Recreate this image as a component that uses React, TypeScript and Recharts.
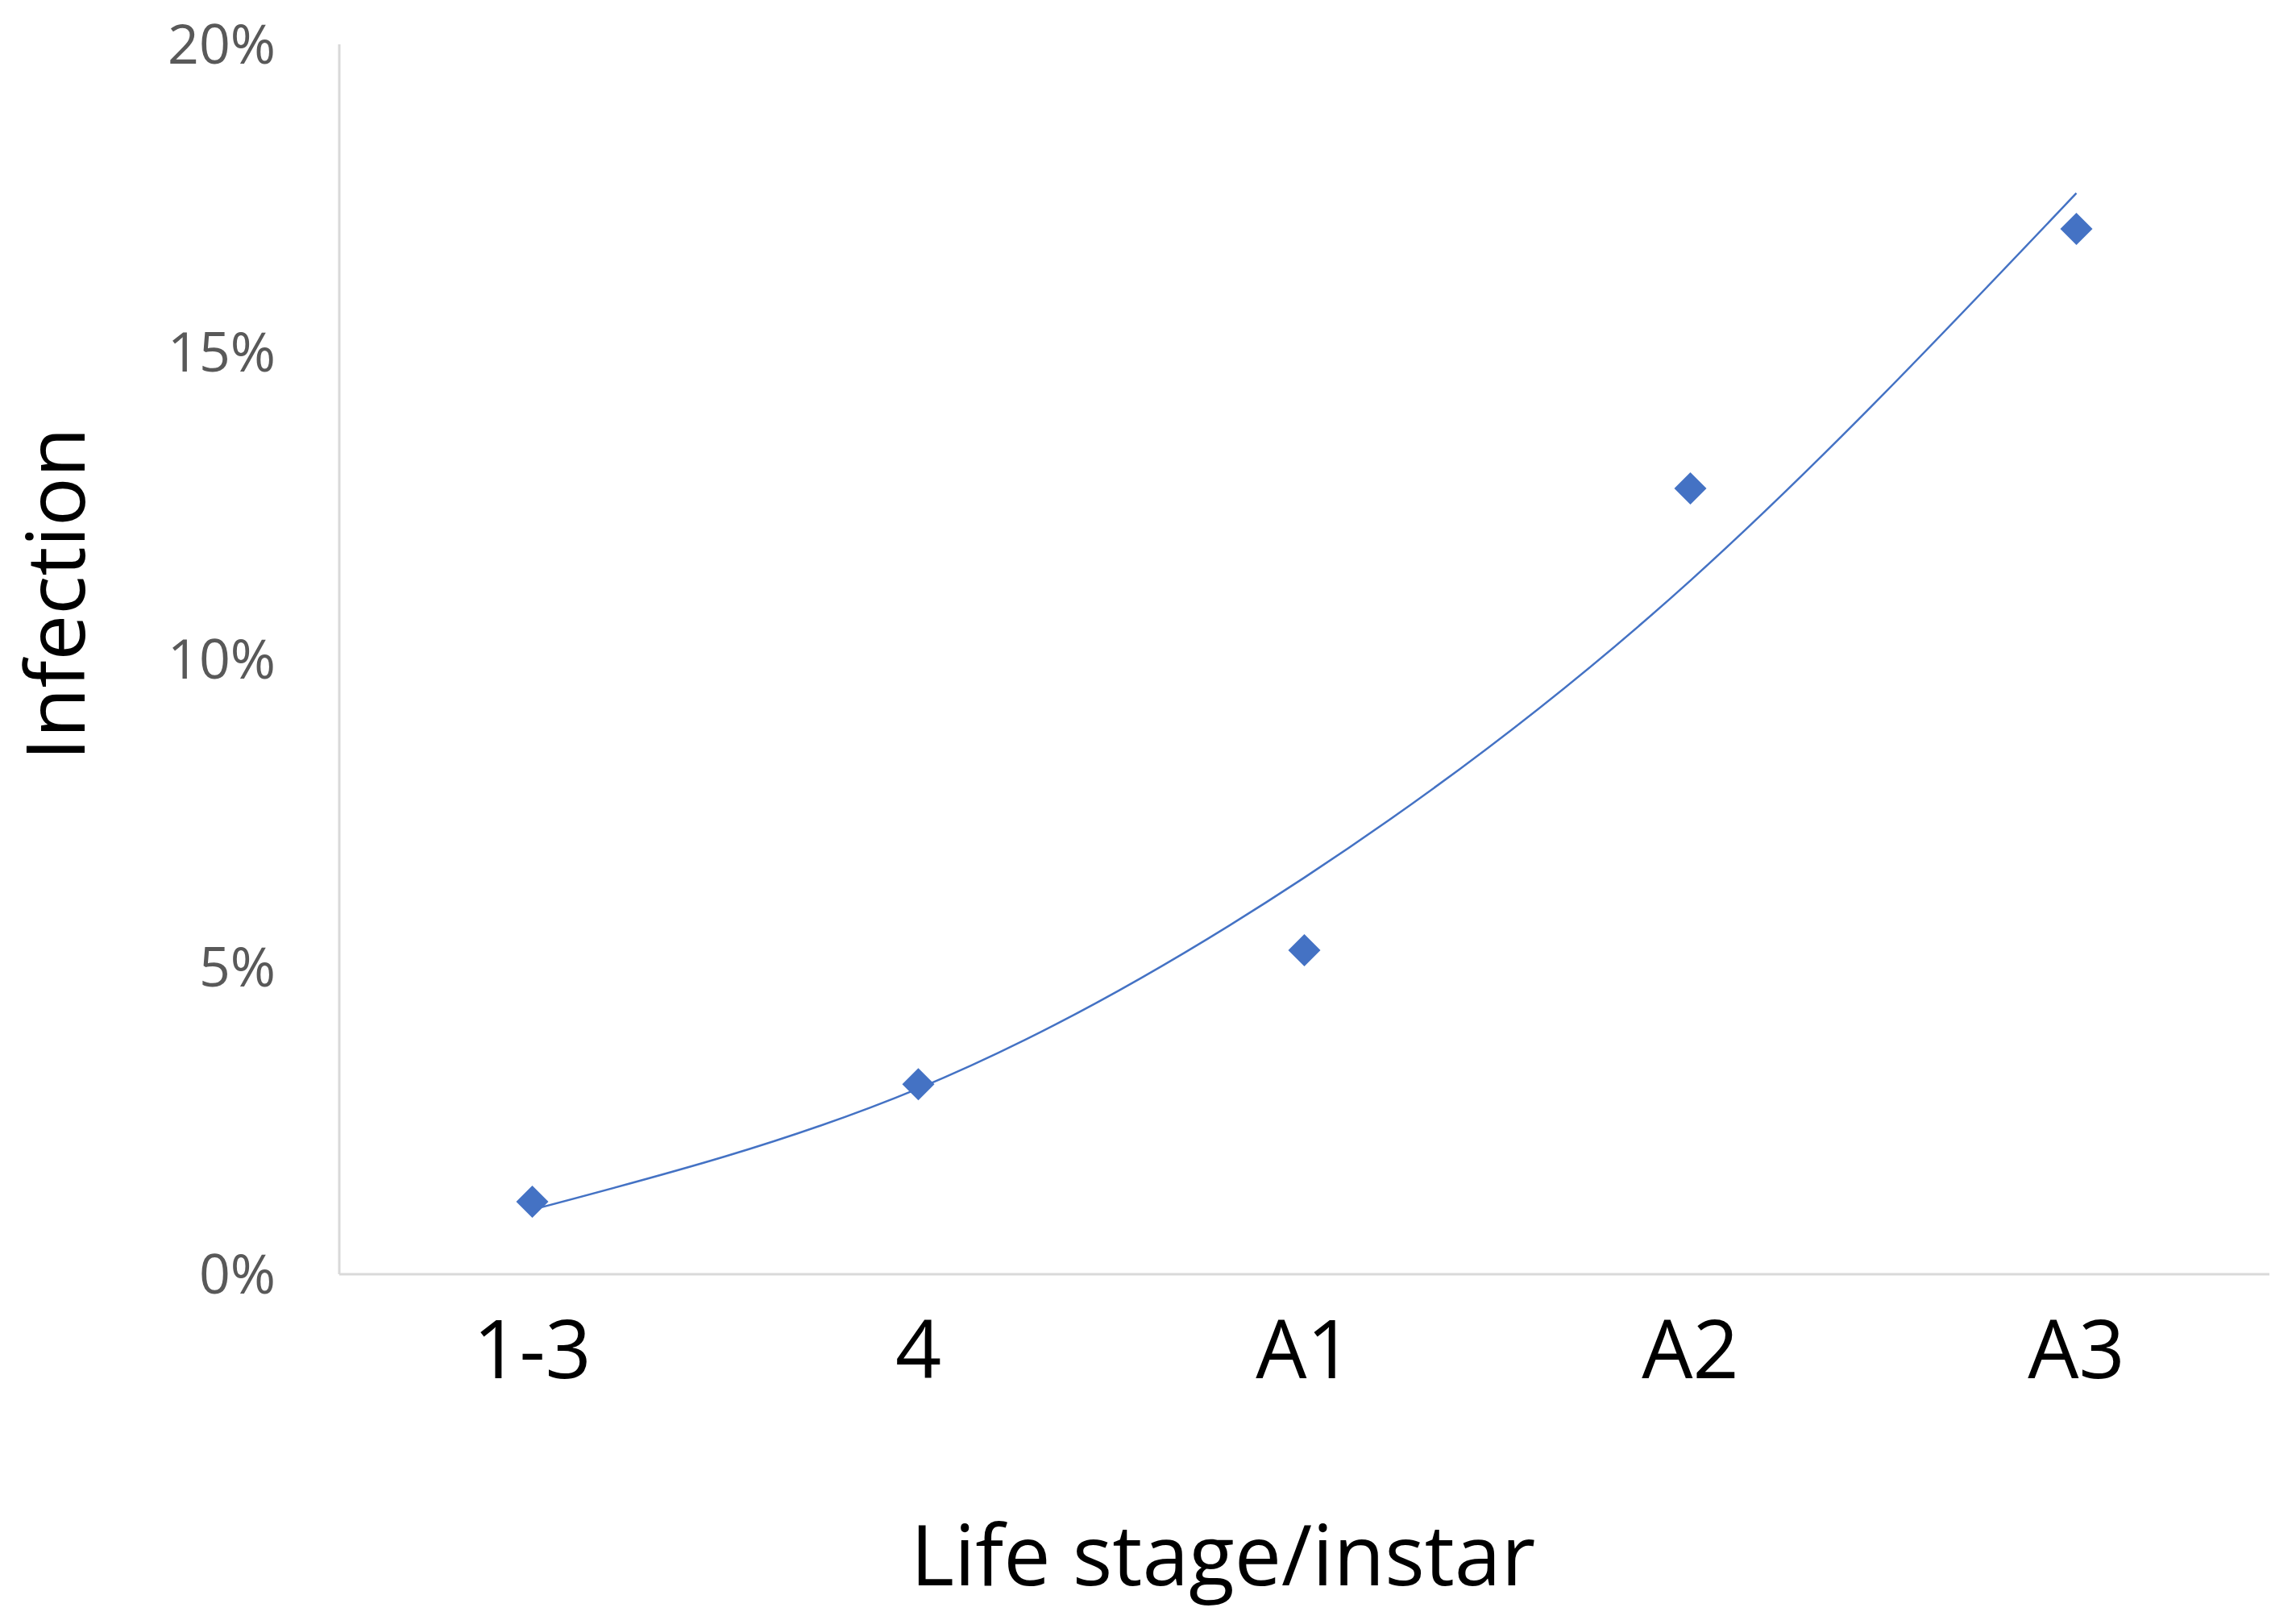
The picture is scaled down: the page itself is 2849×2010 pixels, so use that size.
import React from 'react';
import { ComposedChart, XAxis, YAxis, Line, Scatter } from 'recharts';

const stages = ['1-3', '4', 'A1', 'A2', 'A3'];
const infection = [1.18, 3.09, 5.27, 12.78, 17.0];
const trend = [1.05, 3.02, 6.45, 11.28, 17.58];
const yTicks = [0, 5, 10, 15, 20];

const data = stages.map((s, i) => ({ stage: s, infection: infection[i], trend: trend[i] }));

const FONT = '"Open Sans", sans-serif';
const BLUE = '#4472C4';
const AXIS = '#D9D9D9';

const XTick = (props: any) => {
  const { x, y, payload } = props;
  return (
    <text x={x} y={y + 129} textAnchor="middle" fontSize={100} fontFamily={FONT} fill="#000">
      {payload.value}
    </text>
  );
};

const YTick = (props: any) => {
  const { x, y, payload } = props;
  return (
    <text x={x} y={y + 24} textAnchor="end" fontSize={68} fontFamily={FONT} fill="#595959">
      {`${payload.value}%`}
    </text>
  );
};

const Diamond = (props: any) => {
  const { cx, cy } = props;
  const r = 20;
  return (
    <polygon
      points={`${cx},${cy - r} ${cx + r},${cy} ${cx},${cy + r} ${cx - r},${cy}`}
      fill={BLUE}
    />
  );
};

const XTitle = (props: any) => {
  const vb = props.viewBox || {};
  const cx = vb.x + vb.width / 2 - 101;
  return (
    <text x={cx} y={vb.y + 386} textAnchor="middle" fontSize={104} fontFamily={FONT} fill="#000">
      Life stage/instar
    </text>
  );
};

const YTitle = (props: any) => {
  const vb = props.viewBox || {};
  const cx = 105;
  const cy = vb.y + vb.height / 2 - 81;
  return (
    <text
      x={cx}
      y={cy}
      transform={`rotate(-90 ${cx} ${cy})`}
      textAnchor="middle"
      fontSize={101}
      fontFamily={FONT}
      fill="#000"
    >
      Infection
    </text>
  );
};

export default function App() {
  return (
    <div style={{ position: 'absolute', left: 0, top: 0, width: 2849, height: 2010, background: '#fff' }}>
      <ComposedChart
        width={2849}
        height={2010}
        data={data}
        margin={{ top: 55, right: 33, bottom: 0, left: 0 }}
      >
        <XAxis
          dataKey="stage"
          type="category"
          scale="band"
          axisLine={{ stroke: AXIS, strokeWidth: 3 }}
          tickLine={false}
          tickSize={0}
          tickMargin={0}
          tick={<XTick />}
          interval={0}
          height={429}
          label={{ content: <XTitle /> }}
        />
        <YAxis
          type="number"
          domain={[0, 20]}
          ticks={yTicks}
          width={421}
          axisLine={{ stroke: AXIS, strokeWidth: 3 }}
          tickLine={false}
          tickSize={0}
          tickMargin={79}
          tick={<YTick />}
          interval={0}
          label={{ content: <YTitle /> }}
        />
        <Line
          dataKey="trend"
          type="natural"
          stroke={BLUE}
          strokeWidth={2.5}
          dot={false}
          activeDot={false}
          isAnimationActive={false}
        />
        <Scatter dataKey="infection" shape={<Diamond />} isAnimationActive={false} />
      </ComposedChart>
    </div>
  );
}
